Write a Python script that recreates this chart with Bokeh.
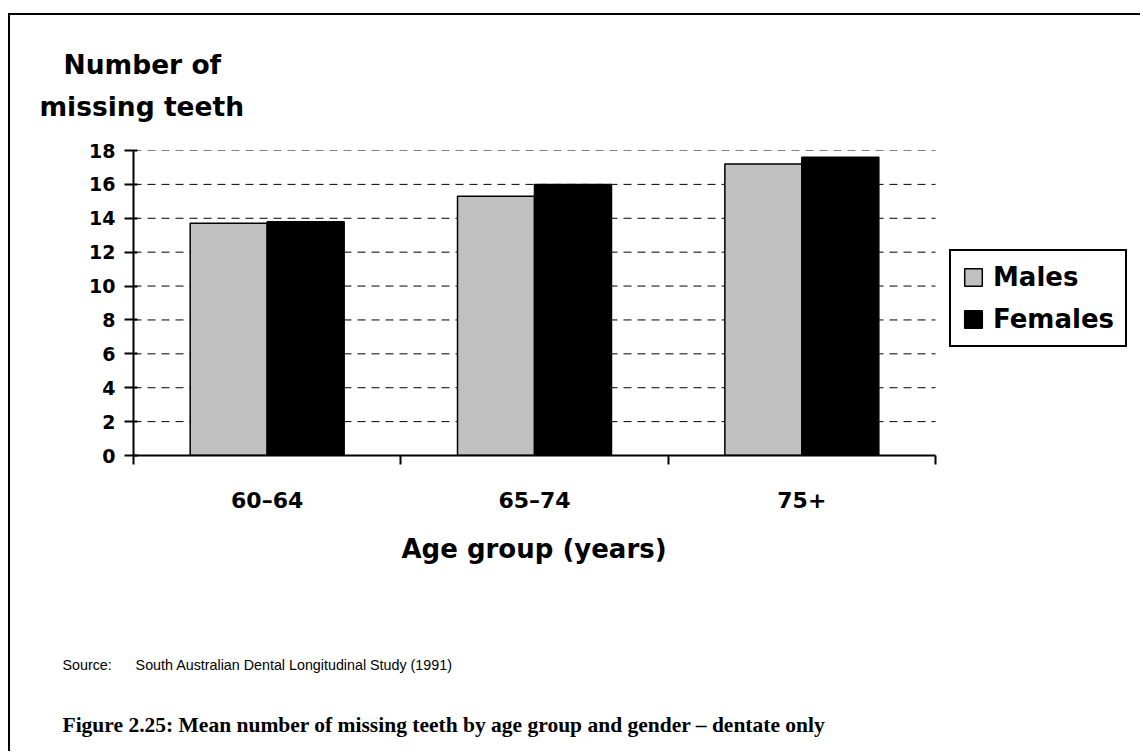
from bokeh.plotting import figure
from bokeh.models import (ColumnDataSource, Range1d, FixedTicker, Legend, LegendItem, Title)
from bokeh.transform import dodge
from bokeh.embed import file_html
from bokeh.resources import INLINE

# ---- data ----
age_groups = ["60–64", "65–74", "75+"]
males = [13.7, 15.3, 17.2]
females = [13.8, 16.0, 17.6]
y_ticks = [0, 2, 4, 6, 8, 10, 12, 14, 16, 18]
y_title_lines = ["Number of", "missing teeth"]
x_title = "Age group (years)"
source_text = "Source:\u00a0\u00a0\u00a0\u00a0\u00a0 South Australian Dental Longitudinal Study (1991)"
caption = "Figure 2.25: Mean number of missing teeth by age group and gender – dentate only"

n = len(age_groups)
centers = [i + 0.5 for i in range(n)]
src = ColumnDataSource(dict(x=centers, males=males, females=females, g=age_groups))
grid_src = ColumnDataSource(dict(y=y_ticks[1:], x0=[0] * (len(y_ticks) - 1), x1=[n] * (len(y_ticks) - 1)))

SANS = "DejaVu Sans"
W, H = 1132, 738
LEFT, TOP, BOTTOM = 123, 135, 298
AXIS_PX = 802                      # pixel length of the category axis
frame_w = W - LEFT

p = figure(width=W, height=H, output_backend="svg", toolbar_location=None,
           x_range=Range1d(0, n * frame_w / AXIS_PX), y_range=Range1d(0, 18),
           min_border_left=LEFT, min_border_right=0, min_border_top=TOP, min_border_bottom=BOTTOM)
p.title.visible = False
p.outline_line_color = None
p.background_fill_color = "white"
p.border_fill_color = "white"
p.styles = {"margin-left": "8px", "margin-top": "13px",
            "border-left": "2px solid black", "border-top": "2px solid black"}

# dashed horizontal gridlines across the category span
p.segment(x0="x0", x1="x1", y0="y", y1="y", source=grid_src, line_color="black",
          line_width=1, line_dash="8 6", level="underlay")

bw = 0.288
rm = p.vbar(x=dodge("x", -bw / 2, range=p.x_range), top="males", width=bw, source=src,
            fill_color="#c0c0c0", line_color="black", line_width=1.5)
rf = p.vbar(x=dodge("x", bw / 2, range=p.x_range), top="females", width=bw, source=src,
            fill_color="black", line_color="black", line_width=1.5)

# y axis
ya = p.yaxis[0]
ya.ticker = FixedTicker(ticks=y_ticks)
ya.axis_line_width = 2
ya.axis_line_color = "black"
ya.major_tick_line_width = 2
ya.major_tick_out = 9
ya.major_tick_in = 4
ya.minor_tick_line_color = None
ya.major_label_standoff = 9
ya.major_label_text_font = SANS
ya.major_label_text_font_style = "bold"
ya.major_label_text_font_size = "19px"
ya.major_label_text_color = "black"

# x axis
xa = p.xaxis[0]
xa.bounds = (0, n)
xa.ticker = FixedTicker(ticks=centers, minor_ticks=list(range(n + 1)))
xa.major_label_overrides = {c: g for c, g in zip(centers, age_groups)}
xa.axis_line_width = 2
xa.axis_line_color = "black"
xa.major_tick_out = 0
xa.major_tick_in = 0
xa.major_tick_line_color = None
xa.minor_tick_out = 9
xa.minor_tick_in = 0
xa.minor_tick_line_width = 2
xa.minor_tick_line_color = "black"
xa.major_label_standoff = 23
xa.major_label_text_font = SANS
xa.major_label_text_font_style = "bold"
xa.major_label_text_font_size = "22px"
xa.major_label_text_color = "black"

p.xgrid.visible = False
p.ygrid.visible = False

# legend (inside the extended frame, right of the axis)
legend = Legend(items=[LegendItem(label="Males", renderers=[rm]),
                       LegendItem(label="Females", renderers=[rf])],
                location=(816, 108), orientation="vertical",
                border_line_color="black", border_line_width=2, border_line_alpha=1,
                background_fill_color="white", background_fill_alpha=1,
                label_text_font=SANS, label_text_font_style="bold",
                label_text_font_size="26px", label_text_color="black",
                glyph_width=22, glyph_height=22, label_standoff=9,
                padding=11, spacing=12, margin=0)
p.add_layout(legend, "center")


def spacer(standoff):
    return Title(text="\u00a0", standoff=standoff, text_font_size="1px", text_color="white")


# y title (two lines, above panel; first added is nearest the frame)
p.add_layout(spacer(21), "above")
p.add_layout(Title(text=y_title_lines[1], align="left", offset=-94, standoff=9,
                   text_font=SANS, text_font_style="bold", text_font_size="26.5px",
                   text_color="black"), "above")
p.add_layout(Title(text=y_title_lines[0], align="left", offset=-70, standoff=9,
                   text_font=SANS, text_font_style="bold", text_font_size="26.5px",
                   text_color="black"), "above")

# x title, source and caption (below panel, after the x axis)
p.add_layout(Title(text=x_title, align="left", offset=268, standoff=33,
                   text_font=SANS, text_font_style="bold", text_font_size="26px",
                   text_color="black"), "below")
p.add_layout(spacer(71), "below")
p.add_layout(Title(text=source_text, align="left", offset=-71, standoff=0,
                   text_font="Liberation Sans", text_font_style="normal", text_font_size="14.3px",
                   text_color="black"), "below")
p.add_layout(spacer(35), "below")
p.add_layout(Title(text=caption, align="left", offset=-71, standoff=0,
                   text_font="Liberation Serif", text_font_style="bold", text_font_size="21.5px",
                   text_color="black"), "below")

open("out.html", "w").write(file_html(p, INLINE))
